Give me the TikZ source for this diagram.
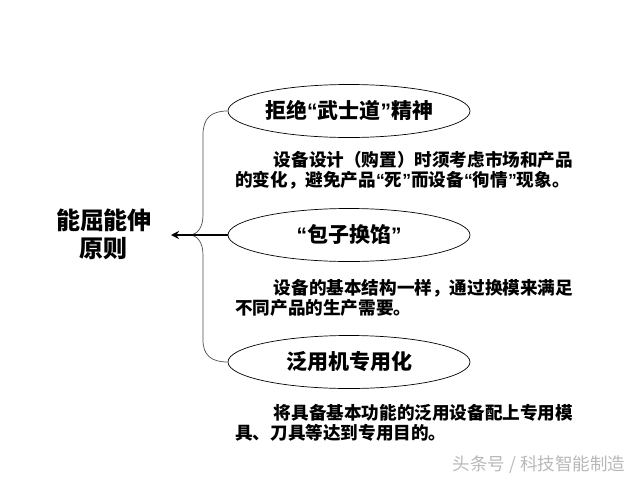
\documentclass[tikz,border=0pt]{standalone}
\usepackage{fontspec}
\setmainfont{Noto Sans CJK SC}
\newfontfamily\latq{Liberation Sans}
\newcommand{\oq}{{\latq “}}
\newcommand{\cq}{{\latq ”}}
\usetikzlibrary{shapes.geometric, arrows.meta}

\begin{document}
\begin{tikzpicture}[x=1pt, y=-1pt,
		oval/.style={ellipse, draw=black, line width=0.7pt, minimum width=242pt, minimum height=53pt, inner sep=0pt, font=\fontsize{21}{25}\selectfont\bfseries},
		para/.style={anchor=west, align=left, inner sep=0pt, font=\fontsize{17.6}{20}\selectfont\bfseries}]
		\useasboundingbox (0,0) rectangle (640,480);
		\def\xe{349}
		\def\xp{235}
		\node[align=center, font=\fontsize{24}{28}\selectfont\bfseries] (title) at (104, 234) {能屈能伸\\原则};
		\node[oval] (e1) at (\xe, 111) {拒绝\oq 武士道\cq 精神};
		\node[oval] (e2) at (\xe, 235) {\oq 包子换馅\cq};
		\node[oval] (e3) at (\xe, 362) {泛用机专用化};
		\node[para] (p1) at (\xp, 170) {\hspace*{2.2em}设备设计（购置）时须考虑市场和产品\\的变化，避免产品\oq 死\cq 而设备\oq 徇情\cq 现象。};
		\node[para] (p2) at (\xp, 298) {\hspace*{2.2em}设备的基本结构一样，通过换模来满足\\不同产品的生产需要。};
		\node[para] (p3) at (\xp, 423) {\hspace*{2.2em}将具备基本功能的泛用设备配上专用模\\具、刀具等达到专用目的。};
		\node[text=black!28, font=\fontsize{17.5}{20}\selectfont] (mark) at (539, 465) {头条号 / 科技智能制造};
		\coordinate (cusp) at (189, 235);
		\coordinate (tip) at (171, 235);
		\draw[black!70, line width=0.7pt] (e1.west) .. controls (211,111) and (203,118) .. (203,135) -- (203,215)
			.. controls (203,228) and (197,235) .. (cusp)
			.. controls (197,235) and (203,242) .. (203,255) -- (203,340)
			.. controls (203,355) and (211,362) .. (e3.west);
		\draw[line width=1.8pt, -{Stealth[length=8pt, width=8pt]}] (e2.west) -- (tip);
	\end{tikzpicture}
\end{document}
